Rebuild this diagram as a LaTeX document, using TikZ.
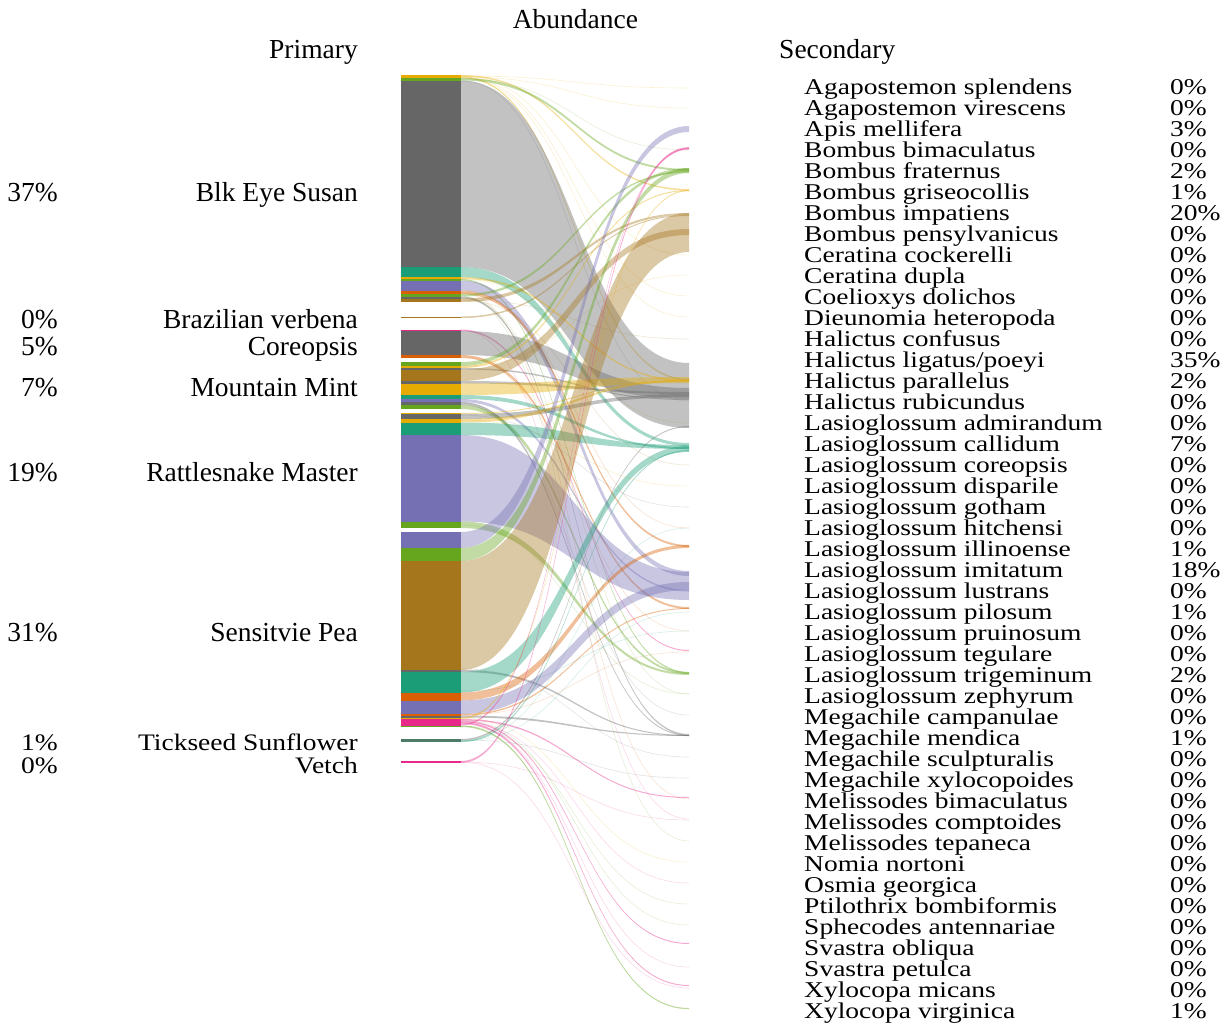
\documentclass[tikz,border=0pt]{standalone}
\usepackage{fontspec}
\setmainfont{Liberation Serif}
\definecolor{cT}{HTML}{1B9E77}
\definecolor{cO}{HTML}{D95F02}
\definecolor{cP}{HTML}{7570B3}
\definecolor{cR}{HTML}{E7298A}
\definecolor{cG}{HTML}{66A61E}
\definecolor{cY}{HTML}{E6AB02}
\definecolor{cB}{HTML}{A6761D}
\definecolor{cK}{HTML}{666666}
\definecolor{cTK}{HTML}{4E7A68}
\newcommand\ribbon[5]{%
  \fill[#5, fill opacity=0.4] (461,#1) .. controls (575,#1) and (575,#3) .. (689,#3) -- (689,#4) .. controls (575,#4) and (575,#2) .. (461,#2) -- cycle;}
\newcommand\hair[3]{%
  \draw[#3, draw opacity=0.18, line width=0.6pt] (461,#1) .. controls (575,#1) and (575,#2) .. (689,#2);}
\begin{document}
\begin{tikzpicture}[x=1pt,y=-1pt]
\tikzset{lbl/.style={font=\fontsize{27.5}{30}\selectfont, inner sep=0pt}}
\useasboundingbox (0,0) rectangle (1231,1025);
% titles
\node[lbl, anchor=base] (abund) at (575.5,29) {Abundance};
\node[lbl, anchor=base east] (prim) at (358,59) {Primary};
\node[lbl, anchor=base west] (sec) at (779,59) {Secondary};
% primary labels
\foreach \nm/\pc/\yy/\sc [count=\k] in {Blk Eye Susan/37/201/1, Brazilian verbena/0/328/1, Coreopsis/5/355/1, Mountain Mint/7/396/1, Rattlesnake Master/19/481/1, Sensitvie Pea/31/641/1, Tickseed Sunflower/1/750/0.86, Vetch/0/773/0.86} {
  \node[lbl, anchor=base east] (pl\k) at (358,\yy) {\scalebox{1}[\sc]{\nm}};
  \node[lbl, anchor=base east] (pp\k) at (58,\yy) {\scalebox{1}[\sc]{\pc\%}};
}
% secondary labels
\foreach \nm/\pc [count=\i from 0] in {Agapostemon splendens/0, Agapostemon virescens/0, Apis mellifera/3, Bombus bimaculatus/0, Bombus fraternus/2, Bombus griseocollis/1, Bombus impatiens/20, Bombus pensylvanicus/0, Ceratina cockerelli/0, Ceratina dupla/0, Coelioxys dolichos/0, Dieunomia heteropoda/0, Halictus confusus/0, {Halictus ligatus/poeyi}/35, Halictus parallelus/2, Halictus rubicundus/0, Lasioglossum admirandum/0, Lasioglossum callidum/7, Lasioglossum coreopsis/0, Lasioglossum disparile/0, Lasioglossum gotham/0, Lasioglossum hitchensi/0, Lasioglossum illinoense/1, Lasioglossum imitatum/18, Lasioglossum lustrans/0, Lasioglossum pilosum/1, Lasioglossum pruinosum/0, Lasioglossum tegulare/0, Lasioglossum trigeminum/2, Lasioglossum zephyrum/0, Megachile campanulae/0, Megachile mendica/1, Megachile sculpturalis/0, Megachile xylocopoides/0, Melissodes bimaculatus/0, Melissodes comptoides/0, Melissodes tepaneca/0, Nomia nortoni/0, Osmia georgica/0, Ptilothrix bombiformis/0, Sphecodes antennariae/0, Svastra obliqua/0, Svastra petulca/0, Xylocopa micans/0, Xylocopa virginica/1} {
  \node[lbl, anchor=base west] (sp\i) at (804,{95+20.977*\i}) {\scalebox{1}[0.82]{\nm}};
  \node[lbl, anchor=base west] (sq\i) at (1170,{95+20.977*\i}) {\scalebox{1}[0.82]{\pc\%}};
}
% faint hairlines
\foreach \a/\c/\col in {76/88/cY, 77/108/cY, 79/150/cG, 76/255/cY, 77/296/cY, 78/317/cY, 300/465/cB, 292/528/cO, 297/694/cG, 330/819/cR, 357/631/cO, 367/275/cY, 403/715/cK, 415/507/cK, 420/486/cY, 525/694/cG, 669/757/cK, 718/862/cY, 720/925/cG, 722/883/cR, 723/967/cR, 726/1009/cG, 726/904/cG, 741/528/cT, 741/612/cT, 762/820/cR, 762/988/cR, 740/778/cK, 715/652/cO, 691/631/cT, 300/339/cB, 296/841/cG, 293/799/cO, 81/401/cK, 279/423/cY} {
  \hair{\a}{\c}{\col}
}
% ribbons
\foreach \a/\b/\c/\d/\col in {75/76.5/189/190.5/cY, 76.5/78/379/380.5/cY, 78/80.5/169/171/cG, 80.5/267/363/428/cK, 267/277/443/446/cT, 277/279/380/381.5/cY, 279/280.5/672/673.5/cG, 280.5/290.5/571/576/cP, 290.5/294/545/547/cO, 294/296.5/171/172.5/cG, 296.5/298.5/734/735.5/cK, 298.5/302/213/215/cB, 316.5/318/215/216/cB, 329.5/331/650/651/cR, 331/355/388/399/cK, 355/358/607/609/cO, 362/366/168/171/cG, 366/368/190/191/cY, 368/369.5/399/400/cK, 369.5/381/229/235/cB, 381/383.5/392/394/cK, 383.5/395/377/383/cY, 395/399/447/449/cT, 399/402/590/591.5/cP, 402/405/735/736/cK, 405/409/672/674/cG, 413/414/380/381/cY, 414/419/394/397/cK, 419/422.5/380/381.5/cY, 422.5/435/445/449/cT, 435/521.5/572/600/cP, 521.5/528/673/675/cG, 532/548/126/132/cP, 548/561/168/173/cG, 561/670/213/252/cB, 670/672/735/736/cK, 672/692.5/446/452/cT, 692.5/700.5/545/548/cO, 700.5/714/582/590/cP, 714/715.5/608/609/cO, 715.5/717.5/735/736/cK, 717.5/719/190/191/cY, 719/720.5/797/798/cR, 720.5/722/943/944/cR, 722/724/985/986/cR, 724/725.5/148/149/cR, 725.5/727/1008/1009/cG, 739/740.5/426/427/cK, 740.5/742/450/451/cT, 761/763/147/149.5/cR} {
  \ribbon{\a}{\b}{\c}{\d}{\col}
}
% primary bar segments
\foreach \a/\b/\col in {75/78/cY, 78/80.5/cG, 80.5/267/cK, 267/277/cT, 277/279/cY, 279/280.5/cG, 280.5/290.5/cP, 290.5/294/cO, 294/296.5/cG, 296.5/298.5/cK, 298.5/302/cB, 316.5/318/cB, 329.5/331/cR, 331/355/cK, 355/358/cO, 362/366/cG, 366/368/cY, 368/369.5/cK, 369.5/381/cB, 381/383.5/cK, 383.5/395/cY, 395/399/cT, 399/402/cP, 402/405/cK, 405/409/cG, 413/414/cY, 414/419/cK, 419/422.5/cY, 422.5/435/cT, 435/521.5/cP, 521.5/528/cG, 532/548/cP, 548/561/cG, 561/670/cB, 670/672/cK, 672/692.5/cT, 692.5/700.5/cO, 700.5/714/cP, 714/715.5/cO, 715.5/717.5/cK, 717.5/719/cY, 719/724/cR, 724/725.5/cR, 725.5/727/cG, 739/742/cTK, 761/763/cR} {
  \fill[\col] (401,\a) rectangle (461,\b);
}
\end{tikzpicture}
\end{document}
